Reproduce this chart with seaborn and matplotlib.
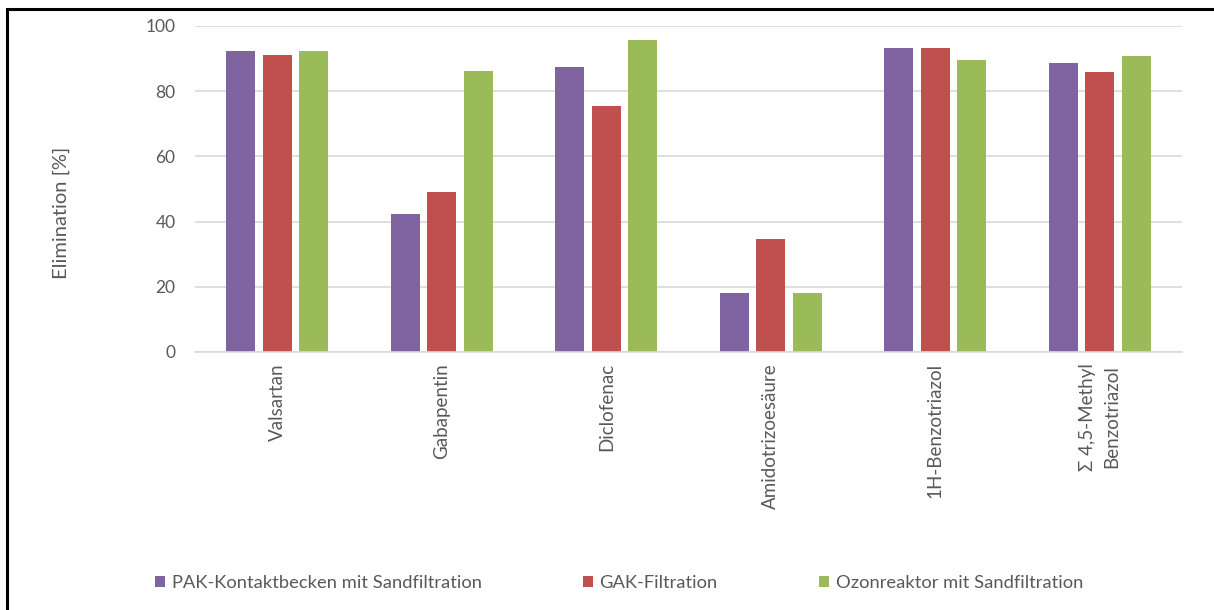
import matplotlib
matplotlib.use("Agg")
import matplotlib.pyplot as plt
from matplotlib.patches import Rectangle
import seaborn as sns
import pandas as pd

# Substances (x categories)
categories = ["Valsartan", "Gabapentin", "Diclofenac", "Amidotrizoesäure",
              "1H-Benzotriazol", "Σ 4,5-Methyl\nBenzotriazol"]

# Treatment processes (hue)
series_names = ["PAK-Kontaktbecken mit Sandfiltration", "GAK-Filtration",
                "Ozonreaktor mit Sandfiltration"]

# Elimination in percent per process
pak_values = [92.4, 42.3, 87.4, 18.1, 93.3, 88.5]
gak_values = [91.1, 49.0, 75.4, 34.7, 93.3, 85.9]
ozon_values = [92.4, 86.2, 95.7, 18.1, 89.6, 90.7]

y_ticks = [0, 20, 40, 60, 80, 100]

colors = ["#8064A2", "#C0504D", "#9BBB59"]
text_grey = "#595959"
grid_grey = "#D9D9D9"

rows = []
for name, vals in zip(series_names, [pak_values, gak_values, ozon_values]):
    for cat, v in zip(categories, vals):
        rows.append({"Substanz": cat, "Verfahren": name, "Elimination": v})
df = pd.DataFrame(rows)

sns.set_theme(style="white")
plt.rcParams["font.family"] = ["Lato", "DejaVu Sans"]

W, H = 1214, 610
fig = plt.figure(figsize=(W / 100, H / 100), dpi=100)
ax = fig.add_axes([195 / W, (H - 352) / H, (1182 - 195) / W, (352 - 26) / H])

sns.barplot(data=df, x="Substanz", y="Elimination", hue="Verfahren",
            order=categories, hue_order=series_names, palette=colors,
            width=0.666, gap=0.2, linewidth=0, saturation=1,
            errorbar=None, ax=ax, legend=True)

ax.set_ylim(0, 100)
ax.set_xlim(-0.5, len(categories) - 0.5)
ax.set_yticks(y_ticks)
ax.yaxis.grid(True, color=grid_grey, linewidth=1.2)
ax.set_axisbelow(True)
for side in ["left", "right", "top"]:
    ax.spines[side].set_visible(False)
ax.spines["bottom"].set_color(grid_grey)
ax.spines["bottom"].set_linewidth(1.2)
ax.tick_params(axis="both", length=0, colors=text_grey)
ax.tick_params(axis="y", labelsize=12.5, pad=14)
ax.set_xticks(range(len(categories)))
ax.set_xticklabels(categories, rotation=90, fontsize=13.5, color=text_grey,
                   va="top", ha="center", multialignment="center",
                   linespacing=1.55)
ax.tick_params(axis="x", pad=8)
ax.set_xlabel("")
ax.set_ylabel("Elimination [%]", fontsize=14.5, color=text_grey)
ax.yaxis.set_label_coords((70 - 195) / (1182 - 195), (352 - 213) / (352 - 26))

# one legend entry per process, laid out in a row below the chart
handles, labels = ax.get_legend_handles_labels()
ax.get_legend().remove()
legend_x = [155, 583, 819]
for h, lab, lx in zip(handles, labels, legend_x):
    leg = fig.legend([h], [lab], loc="center left",
                     bbox_to_anchor=(lx / W, 1 - 583 / H),
                     frameon=False, fontsize=13.2, labelcolor=text_grey,
                     handlelength=0.55, handleheight=0.55, handletextpad=0.35,
                     borderpad=0, borderaxespad=0)

# outer chart frame
fig.patches.append(Rectangle((7 / W, -0.05), 1.2, (H - 9) / H + 0.05,
                             transform=fig.transFigure, fill=False,
                             edgecolor="black", linewidth=2.2))

fig.savefig("out.png", dpi=100)
